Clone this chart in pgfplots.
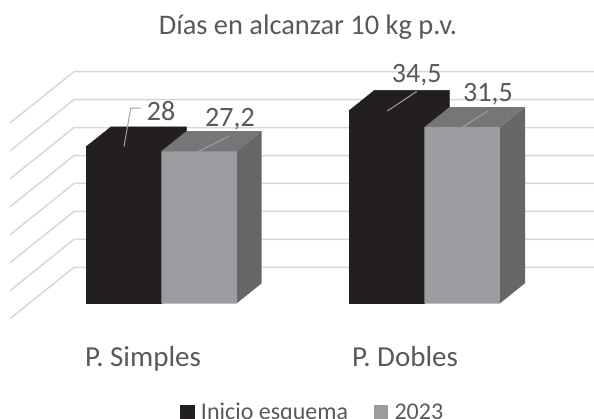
\documentclass[border=0pt]{standalone}
\usepackage{pgfplots}
\pgfplotsset{compat=1.18}
\usepackage{fontspec}
\setmainfont{Carlito}
\definecolor{blk}{HTML}{231F20}
\definecolor{gry}{HTML}{9B9C9F}
\definecolor{gtop}{HTML}{757678}
\definecolor{gside}{HTML}{67676A}
\definecolor{gridc}{HTML}{D6D7D8}
\definecolor{txt}{HTML}{595959}
\definecolor{lead}{HTML}{A0A0A0}
\begin{document}
\begin{tikzpicture}
\path[use as bounding box,clip] (0,0) rectangle (594pt,418pt);
\begin{axis}[
  at={(0,0)},anchor=south west,
  scale only axis,width=594pt,height=418pt,
  xmin=0,xmax=594,ymin=-20.52,ymax=54.26,
  axis line style={draw=none},tick style={draw=none},
  ytick=\empty,
  xtick={143,405},xticklabels={P. Simples,P. Dobles},
  xticklabel style={text=txt,font=\fontsize{29}{32}\selectfont,yshift=75pt},
  title={Días en alcanzar 10 kg p.v.},
  title style={at={(axis description cs:0.5185,0.921)},anchor=center,text=txt,font=\fontsize{28.4}{32}\selectfont},
  legend columns=2,
  legend style={draw=none,fill=none,at={(axis description cs:0.3035,-0.012)},anchor=south west,
    inner sep=0pt,outer sep=0pt,text=txt,font=\fontsize{24}{26}\selectfont,
    /tikz/every even column/.append style={column sep=24pt}},
]
% back wall and side wall grid lines
\pgfplotsset{gl/.style={forget plot,draw=gridc,line width=1.5pt}}
\addplot[gl] coordinates {(10,-2.74)(74,6.44)(594,6.44)};
\addplot[gl] coordinates {(10,2.26)(74,11.44)(594,11.44)};
\addplot[gl] coordinates {(10,7.26)(74,16.44)(594,16.44)};
\addplot[gl] coordinates {(10,12.26)(74,21.44)(594,21.44)};
\addplot[gl] coordinates {(10,17.26)(74,26.44)(594,26.44)};
\addplot[gl] coordinates {(10,22.26)(74,31.44)(594,31.44)};
\addplot[gl] coordinates {(10,27.26)(74,36.44)(594,36.44)};
\addplot[gl] coordinates {(10,32.26)(74,41.44)(594,41.44)};
% Inicio esquema, P. Simples: side and top
\addplot[forget plot,fill=blk,draw=blk,line width=0.4pt] coordinates {(161.3,0)(186.3,3.58)(186.3,31.58)(111.1,31.58)(86,28)(161.3,28)} \closedcycle;
% 2023, P. Simples: side and top
\addplot[forget plot,fill=gside,draw=none] coordinates {(236.7,0)(261.7,3.58)(261.7,30.78)(236.7,27.2)} \closedcycle;
\addplot[forget plot,fill=gtop,draw=none] coordinates {(161.3,27.2)(186.3,30.78)(261.7,30.78)(236.7,27.2)} \closedcycle;
% Inicio esquema, P. Dobles
\addplot[forget plot,fill=blk,draw=blk,line width=0.4pt] coordinates {(424.3,0)(449.3,3.58)(449.3,38.08)(374.3,38.08)(349.3,34.5)(424.3,34.5)} \closedcycle;
% 2023, P. Dobles
\addplot[forget plot,fill=gside,draw=none] coordinates {(500,0)(525,3.58)(525,35.08)(500,31.5)} \closedcycle;
\addplot[forget plot,fill=gtop,draw=none] coordinates {(424.3,31.5)(449.3,35.08)(525,35.08)(500,31.5)} \closedcycle;
% front faces
\addplot[ybar,bar width=75.3,bar shift=0pt,fill=blk,draw=blk,line width=0.2pt,
  legend image code/.code={\fill[blk] (0pt,-6.5pt) rectangle (13.5pt,7pt);\path (18.5pt,0pt);}] coordinates {(123.65,28)(386.8,34.5)};
\addlegendentry{Inicio esquema}
\addplot[ybar,bar width=75.5,bar shift=0pt,fill=gry,draw=none,
  legend image code/.code={\fill[gry] (0pt,-6.5pt) rectangle (13.5pt,7pt);\path (18.5pt,0pt);}] coordinates {(199,27.2)(462.15,31.5)};
\addlegendentry{2023}
% leader lines
\pgfplotsset{ll/.style={forget plot,draw=lead,line width=1pt}}
\addplot[ll] coordinates {(124,28.05)(130.7,34.9)(140.7,34.9)};
\addplot[ll] coordinates {(199,27.2)(229,29.9)};
\addplot[ll] coordinates {(387.3,34.4)(416.7,37.9)};
\addplot[ll] coordinates {(462.3,31.5)(487.7,34.4)};
% data labels
\node[text=txt,font=\fontsize{28}{30}\selectfont] at (axis cs:161,34.45) {28};
\node[text=txt,font=\fontsize{28}{30}\selectfont] at (axis cs:230,33.0) {27,2};
\node[text=txt,font=\fontsize{28}{30}\selectfont] at (axis cs:416.7,40.85) {34,5};
\node[text=txt,font=\fontsize{28}{30}\selectfont] at (axis cs:488,37.45) {31,5};
\end{axis}
\end{tikzpicture}
\end{document}
